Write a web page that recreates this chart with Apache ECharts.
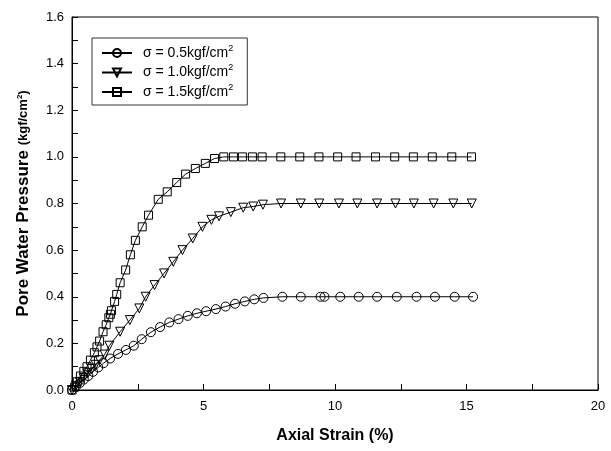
<!DOCTYPE html>
<html>
<head>
<meta charset="utf-8">
<script src="https://cdn.jsdelivr.net/npm/echarts@6/dist/echarts.min.js"></script>
<style>
  html, body { margin: 0; padding: 0; background: #fff; }
  #main { width: 611px; height: 451px; }
</style>
</head>
<body>
<div id="main"></div>
<script>
var chart = echarts.init(document.getElementById('main'));

// sigma = 0.5 kgf/cm2 (circles)
var strain05 = [0, 0.15, 0.3, 0.45, 0.62, 0.8, 1.0, 1.2, 1.45, 1.75, 2.05, 2.35, 2.65, 3.0, 3.35, 3.7, 4.05, 4.4, 4.75, 5.1, 5.47, 5.84, 6.2, 6.57, 6.93, 7.28, 8.0, 8.7, 9.45, 9.6, 10.2, 10.9, 11.6, 12.35, 13.1, 13.8, 14.55, 15.25];
var pwp05 = [0, 0.015, 0.03, 0.045, 0.06, 0.078, 0.097, 0.115, 0.135, 0.155, 0.172, 0.19, 0.218, 0.248, 0.27, 0.29, 0.304, 0.318, 0.329, 0.338, 0.347, 0.358, 0.37, 0.38, 0.389, 0.395, 0.4, 0.4, 0.4, 0.4, 0.4, 0.4, 0.4, 0.4, 0.4, 0.4, 0.4, 0.4];

// sigma = 1.0 kgf/cm2 (triangles)
var strain10 = [0, 0.15, 0.3, 0.45, 0.6, 0.75, 0.9, 1.05, 1.24, 1.42, 1.83, 2.2, 2.56, 2.8, 3.14, 3.5, 3.85, 4.2, 4.59, 4.96, 5.3, 5.59, 6.04, 6.51, 6.89, 7.26, 7.95, 8.7, 9.4, 10.15, 10.85, 11.6, 12.3, 13.0, 13.75, 14.5, 15.2];
var pwp10 = [0, 0.018, 0.035, 0.052, 0.072, 0.09, 0.108, 0.128, 0.152, 0.19, 0.25, 0.3, 0.35, 0.4, 0.45, 0.5, 0.55, 0.6, 0.65, 0.7, 0.73, 0.745, 0.763, 0.782, 0.787, 0.795, 0.8, 0.8, 0.8, 0.8, 0.8, 0.8, 0.8, 0.8, 0.8, 0.8, 0.8];

// sigma = 1.5 kgf/cm2 (squares)
var strain15 = [0, 0.1, 0.2, 0.32, 0.45, 0.57, 0.7, 0.85, 0.95, 1.05, 1.18, 1.3, 1.4, 1.46, 1.5, 1.62, 1.7, 1.83, 2.04, 2.22, 2.41, 2.67, 2.91, 3.28, 3.62, 3.98, 4.32, 4.69, 5.07, 5.42, 5.77, 6.14, 6.48, 6.86, 7.23, 7.94, 8.66, 9.39, 10.1, 10.8, 11.54, 12.27, 12.98, 13.7, 14.44, 15.19];
var pwp15 = [0, 0.012, 0.035, 0.06, 0.08, 0.1, 0.128, 0.16, 0.185, 0.21, 0.25, 0.28, 0.31, 0.325, 0.34, 0.38, 0.41, 0.46, 0.515, 0.58, 0.642, 0.7, 0.75, 0.818, 0.85, 0.89, 0.926, 0.95, 0.972, 0.993, 1.0, 1.0, 1.0, 1.0, 1.0, 1.0, 1.0, 1.0, 1.0, 1.0, 1.0, 1.0, 1.0, 1.0, 1.0, 1.0];

var sigmaNames = ['0.5', '1.0', '1.5'];

function pairs(xs, ys) {
  return xs.map((x, i) => [x, ys[i]]);
}

var font = 'Liberation Sans, Arial, sans-serif';

function makeSeries(name, data, symbol, size, rotate) {
  return {
    type: 'line',
    name: name,
    data: data,
    symbol: symbol,
    symbolSize: size,
    symbolRotate: rotate || 0,
    showAllSymbol: true,
    lineStyle: { color: '#000', width: 1 },
    itemStyle: { color: 'rgba(255,255,255,0)', borderColor: '#000', borderWidth: 1 },
    emphasis: { disabled: true },
    animation: false
  };
}

chart.setOption({
  backgroundColor: '#fff',
  grid: {
    left: 72, right: 13, top: 17, bottom: 61,
    show: true, borderColor: '#000', borderWidth: 1
  },
  legend: {
    orient: 'vertical',
    left: 92,
    top: 38,
    padding: [6, 14, 6, 9],
    borderColor: '#333',
    borderWidth: 1,
    itemWidth: 30,
    itemHeight: 10,
    itemGap: 3.5,
    data: sigmaNames,
    formatter: name => `σ = ${name}kgf/cm{sup|2}`,
    textStyle: {
      fontFamily: font,
      fontSize: 14,
      color: '#000',
      padding: [0, 0, 0, 6],
      rich: {
        sup: { fontSize: 9, fontFamily: font, color: '#000', padding: [0, 0, 9, 0] }
      }
    }
  },
  xAxis: {
    type: 'value',
    min: 0, max: 20, interval: 5,
    name: 'Axial Strain (%)',
    nameLocation: 'middle',
    nameGap: 38,
    nameTextStyle: { fontFamily: font, fontSize: 16, fontWeight: 'bold', color: '#000' },
    axisLine: { lineStyle: { color: '#000', width: 1 } },
    axisTick: { inside: true, length: 6, lineStyle: { color: '#000' } },
    minorTick: { show: true, splitNumber: 2, length: 6, lineStyle: { color: '#000' } },
    axisLabel: { fontFamily: font, fontSize: 13, color: '#000', margin: 10 },
    splitLine: { show: false }
  },
  yAxis: {
    type: 'value',
    min: 0, max: 1.6, interval: 0.2,
    name: 'Pore Water Pressure {s|(kgf/cm}{sup|2}{s|)}',
    nameLocation: 'middle',
    nameRotate: 90,
    nameGap: 40,
    nameTextStyle: {
      fontFamily: font, fontSize: 17, fontWeight: 'bold', color: '#000',
      rich: {
        s: { fontFamily: font, fontSize: 13, fontWeight: 'bold', color: '#000' },
        sup: { fontFamily: font, fontSize: 8, fontWeight: 'bold', color: '#000', padding: [0, 0, 8, 0] }
      }
    },
    axisLine: { lineStyle: { color: '#000', width: 1 } },
    axisTick: { inside: true, length: 6, lineStyle: { color: '#000' } },
    minorTick: { show: true, splitNumber: 2, length: 6, lineStyle: { color: '#000' } },
    axisLabel: { fontFamily: font, fontSize: 13, color: '#000', margin: 8, formatter: v => v.toFixed(1) },
    splitLine: { show: false }
  },
  series: [
    makeSeries(sigmaNames[0], pairs(strain05, pwp05), 'circle', 9),
    makeSeries(sigmaNames[1], pairs(strain10, pwp10), 'triangle', 9, 180),
    makeSeries(sigmaNames[2], pairs(strain15, pwp15), 'rect', 8)
  ]
});
</script>
</body>
</html>
